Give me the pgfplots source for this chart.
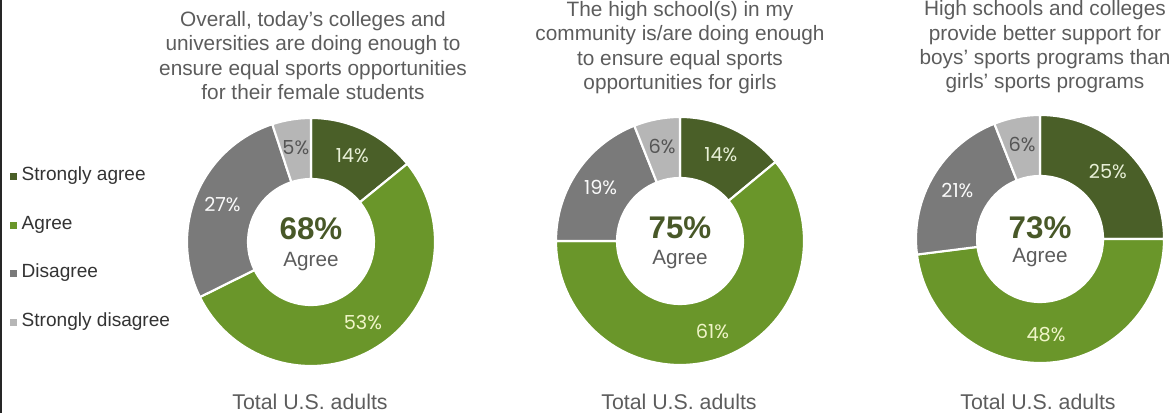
\documentclass[border=0pt]{standalone}
\usepackage{pgfplots}
\usepackage{pgfplotstable}
\pgfplotsset{compat=1.18}
\usepackage{fontspec}
\setmainfont{Liberation Sans}
\newfontfamily\lblfont{Poppins}

\definecolor{sa}{RGB}{74,95,40}
\definecolor{ag}{RGB}{106,150,42}
\definecolor{di}{RGB}{122,122,122}
\definecolor{sd}{RGB}{182,182,182}
\definecolor{sat}{RGB}{232,240,215}
\definecolor{agt}{RGB}{240,245,200}
\definecolor{dit}{RGB}{250,250,250}
\definecolor{sdt}{RGB}{85,85,85}
\definecolor{ctr}{RGB}{72,88,40}
\definecolor{txt}{RGB}{92,92,92}

% values: strongly agree, agree, disagree, strongly disagree
\pgfplotstableread{
v
14
53
27
5
}\pieA
\pgfplotstableread{
v
14
61
19
6
}\pieB
\pgfplotstableread{
v
25
48
21
6
}\pieC

% #1 cx, #2 cy, #3 start angle, #4 value, #5 total, #6 fill, #7 text colour
\newcommand\slice[7]{%
  \pgfmathsetmacro\sa{#3}%
  \pgfmathsetmacro\sb{#3-360*(#4/#5)}%
  \pgfmathsetmacro\sm{(\sa+\sb)/2}%
  \pgfmathsetmacro\xo{#1+124*cos(\sa)}\pgfmathsetmacro\yo{#2+124*sin(\sa)}%
  \pgfmathsetmacro\xin{#1+63*cos(\sb)}\pgfmathsetmacro\yin{#2+63*sin(\sb)}%
  \pgfmathsetmacro\xl{#1+96*cos(\sm)}\pgfmathsetmacro\yl{#2+96*sin(\sm)}%
  \edef\temp{\noexpand\fill[#6,draw=white,line width=1.6pt] (axis cs:\xo,\yo) arc[start angle=\sa,end angle=\sb,radius=93pt] -- (axis cs:\xin,\yin) arc[start angle=\sb,end angle=\sa,radius=47.25pt] -- cycle;
   \noexpand\node[text=#7,font=\noexpand\lblfont\noexpand\fontsize{14.5}{16}\noexpand\selectfont] at (axis cs:\xl,\yl) {#4\noexpand\%};}%
  \temp
  \xdef\nextangle{\sb}%
}
% #1 table, #2 cx, #3 cy
\newcommand\donut[3]{%
  \pgfplotstablegetelem{0}{v}\of#1\edef\va{\pgfplotsretval}%
  \pgfplotstablegetelem{1}{v}\of#1\edef\vb{\pgfplotsretval}%
  \pgfplotstablegetelem{2}{v}\of#1\edef\vc{\pgfplotsretval}%
  \pgfplotstablegetelem{3}{v}\of#1\edef\vd{\pgfplotsretval}%
  \pgfmathsetmacro\tot{\va+\vb+\vc+\vd}%
  \slice{#2}{#3}{90}{\va}{\tot}{sa}{sat}%
  \slice{#2}{#3}{\nextangle}{\vb}{\tot}{ag}{agt}%
  \slice{#2}{#3}{\nextangle}{\vc}{\tot}{di}{dit}%
  \slice{#2}{#3}{\nextangle}{\vd}{\tot}{sd}{sdt}%
}

\begin{document}
\begin{tikzpicture}
\begin{axis}[hide axis, x=0.75pt, y=0.75pt, xmin=0, xmax=1173, ymin=0, ymax=413,
  clip=false, scale only axis]
\donut{\pieA}{311}{171}
\donut{\pieB}{680}{172}
\donut{\pieC}{1040}{174}

% centre texts
\node[text=ctr,font=\bfseries\fontsize{23.5}{25}\selectfont] at (axis cs:311,184) {68\%};
\node[text=txt,font=\fontsize{15.5}{17}\selectfont] at (axis cs:311,151) {Agree};
\node[text=ctr,font=\bfseries\fontsize{23.5}{25}\selectfont] at (axis cs:680,185) {75\%};
\node[text=txt,font=\fontsize{15.5}{17}\selectfont] at (axis cs:680,153) {Agree};
\node[text=ctr,font=\bfseries\fontsize{23.5}{25}\selectfont] at (axis cs:1040,185) {73\%};
\node[text=txt,font=\fontsize{15.5}{17}\selectfont] at (axis cs:1040,155) {Agree};

% titles
\node[text=txt,align=center,font=\fontsize{15.6}{18.25}\selectfont] at (axis cs:313,357.5)
  {Overall, today’s colleges and\\universities are doing enough to\\ensure equal sports opportunities\\for their female students};
\node[text=txt,align=center,font=\fontsize{15.6}{18.25}\selectfont] at (axis cs:680,365.5)
  {The high school(s) in my\\community is/are doing enough\\to ensure equal sports\\opportunities for girls};
\node[text=txt,align=center,font=\fontsize{15.6}{18.25}\selectfont] at (axis cs:1045,366)
  {High schools and colleges\\provide better support for\\boys' sports programs than\\girls' sports programs};

% bottom labels
\node[text=txt,font=\fontsize{16}{18}\selectfont] at (axis cs:310,11) {Total U.S. adults};
\node[text=txt,font=\fontsize{16}{18}\selectfont] at (axis cs:679,11) {Total U.S. adults};
\node[text=txt,font=\fontsize{16}{18}\selectfont] at (axis cs:1038,11) {Total U.S. adults};

% legend
\addplot[only marks, mark=square*, mark size=2.2pt, color=sa, mark options={draw=none}] coordinates {(13,237)};
\addplot[only marks, mark=square*, mark size=2.2pt, color=ag, mark options={draw=none}] coordinates {(13,188)};
\addplot[only marks, mark=square*, mark size=2.2pt, color=di, mark options={draw=none}] coordinates {(13,140)};
\addplot[only marks, mark=square*, mark size=2.2pt, color=sd, mark options={draw=none}] coordinates {(13,91)};
\node[anchor=west,text=black!80,font=\fontsize{14.3}{16}\selectfont] at (axis cs:17,237) {Strongly agree};
\node[anchor=west,text=black!80,font=\fontsize{14.3}{16}\selectfont] at (axis cs:17,188) {Agree};
\node[anchor=west,text=black!80,font=\fontsize{14.3}{16}\selectfont] at (axis cs:17,140) {Disagree};
\node[anchor=west,text=black!80,font=\fontsize{14.3}{16}\selectfont] at (axis cs:17,91) {Strongly disagree};

% left frame line
\draw[black!85, line width=1.2pt] (axis cs:1,0) -- (axis cs:1,413);
\end{axis}
\pgfresetboundingbox
\useasboundingbox (0,0) rectangle (879.75pt,309.75pt);
\end{tikzpicture}
\end{document}
